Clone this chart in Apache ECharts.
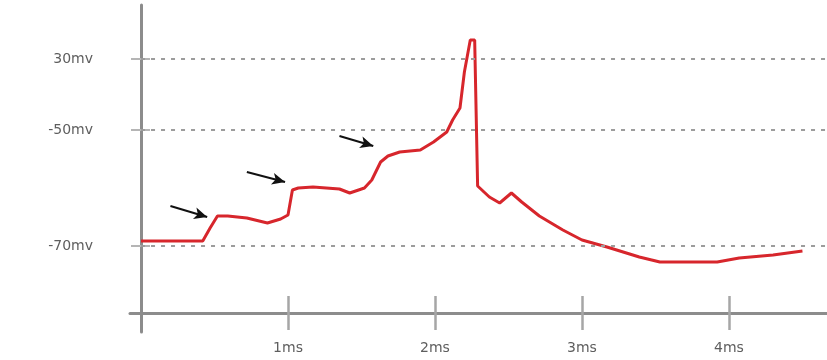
<!DOCTYPE html>
<html>
<head>
<meta charset="utf-8">
<script src="https://cdn.jsdelivr.net/npm/echarts@6/dist/echarts.min.js"></script>
<style>
  html, body { margin: 0; padding: 0; background: #ffffff; }
  #chart { width: 827px; height: 360px; }
</style>
</head>
<body>
<div id="chart"></div>
<script>
// Time in ms, potential in schematic level units (axis only labels three levels)
const timeMs = [0, 0.42, 0.47, 0.52, 0.59, 0.72, 0.86, 0.95, 1.00, 1.03, 1.07, 1.17, 1.35, 1.42,
  1.52, 1.57, 1.63, 1.68, 1.76, 1.90, 1.99, 2.08, 2.12, 2.17, 2.20, 2.24, 2.27, 2.29, 2.37, 2.44,
  2.52, 2.59, 2.71, 2.87, 3.00, 3.17, 3.39, 3.53, 3.92, 4.07, 4.30, 4.50];
const potential = [7.2, 7.2, 8.5, 9.7, 9.7, 9.5, 9.0, 9.4, 9.8, 12.3, 12.5, 12.6, 12.4, 12.0,
  12.5, 13.3, 15.1, 15.7, 16.1, 16.3, 17.1, 18.1, 19.3, 20.5, 24.1, 27.3, 27.3, 12.7, 11.6, 11.0,
  12.0, 11.1, 9.7, 8.3, 7.3, 6.6, 5.6, 5.1, 5.1, 5.5, 5.8, 6.2];

// Reference levels and their labels
const levelValues = [6.7, 18.3, 25.4];
const levelLabels = ['-70mv', '-50mv', '30mv'];

// Time ticks
const timeTicks = [1, 2, 3, 4];
const timeTickLabels = ['1ms', '2ms', '3ms', '4ms'];

// Arrows marking the stepwise depolarisation: [start, end] in (ms, level)
const arrowStarts = [[0.20, 10.7], [0.72, 14.1], [1.35, 17.7]];
const arrowEnds = [[0.45, 9.6], [0.98, 13.1], [1.58, 16.7]];

const X_MIN = -0.075, X_MAX = 4.667;
const Y_MIN = -1.9, Y_MAX = 30.8;

const axisGray = '#8c8c8c';
const tickGray = '#a6a6a6';
const textStyle = { color: '#5e5e5e', fontSize: 14, fontFamily: 'DejaVu Sans' };

const chart = echarts.init(document.getElementById('chart'), null, { renderer: 'canvas' });

const trace = timeMs.map((t, i) => [t, potential[i]]);

const gridLines = levelValues.map(v => [
  { coord: [0, v] },
  { coord: [X_MAX, v] }
]);

const arrows = arrowStarts.map((s, i) => [
  { coord: s },
  { coord: arrowEnds[i] }
]);

chart.setOption({
  animation: false,
  backgroundColor: '#ffffff',
  grid: { left: 130, right: 0, top: 5, bottom: 28, containLabel: false, outerBoundsMode: 'none' },
  xAxis: [
    {
      type: 'value',
      min: X_MIN,
      max: X_MAX,
      position: 'bottom',
      axisLine: { onZero: true, lineStyle: { color: axisGray, width: 3 } },
      axisTick: { customValues: timeTicks, length: 17, lineStyle: { color: tickGray, width: 2.5 } },
      axisLabel: {
        customValues: timeTicks,
        formatter: v => timeTickLabels[timeTicks.indexOf(v)] || '',
        margin: 9,
        ...textStyle
      },
      splitLine: { show: false }
    },
    {
      type: 'value',
      min: X_MIN,
      max: X_MAX,
      position: 'top',
      axisLine: { show: false, onZero: true },
      axisTick: { customValues: timeTicks, length: 17, lineStyle: { color: tickGray, width: 2.5 } },
      axisLabel: { show: false },
      splitLine: { show: false }
    }
  ],
  yAxis: [
    {
      type: 'value',
      min: Y_MIN,
      max: Y_MAX,
      position: 'left',
      axisLine: { onZero: true, lineStyle: { color: axisGray, width: 3 } },
      axisTick: { customValues: levelValues, length: 10, lineStyle: { color: '#b5b5b5', width: 2 } },
      axisLabel: {
        customValues: levelValues,
        formatter: v => levelLabels[levelValues.indexOf(v)] || '',
        margin: 37,
        ...textStyle
      },
      splitLine: { show: false }
    },
    {
      type: 'value',
      min: Y_MIN,
      max: Y_MAX,
      position: 'right',
      axisLine: { show: false, onZero: true },
      axisTick: { customValues: levelValues, length: 9, lineStyle: { color: '#b5b5b5', width: 2 } },
      axisLabel: { show: false },
      splitLine: { show: false }
    }
  ],
  series: [
    {
      name: 'levels',
      type: 'line',
      data: [],
      silent: true,
      markLine: {
        silent: true,
        symbol: ['none', 'none'],
        label: { show: false },
        lineStyle: { color: '#9c9c9c', width: 2, type: [4, 6] },
        data: gridLines
      }
    },
    {
      name: 'potential',
      type: 'line',
      data: trace,
      showSymbol: false,
      smooth: false,
      lineStyle: { color: '#d7262c', width: 3 },
      z: 3
    },
    {
      name: 'arrows',
      type: 'line',
      data: [],
      silent: true,
      markLine: {
        silent: true,
        symbol: ['none', 'arrow'],
        symbolSize: [9, 13],
        label: { show: false },
        lineStyle: { color: '#111111', width: 2, type: 'solid' },
        data: arrows
      }
    }
  ]
});
</script>
</body>
</html>
